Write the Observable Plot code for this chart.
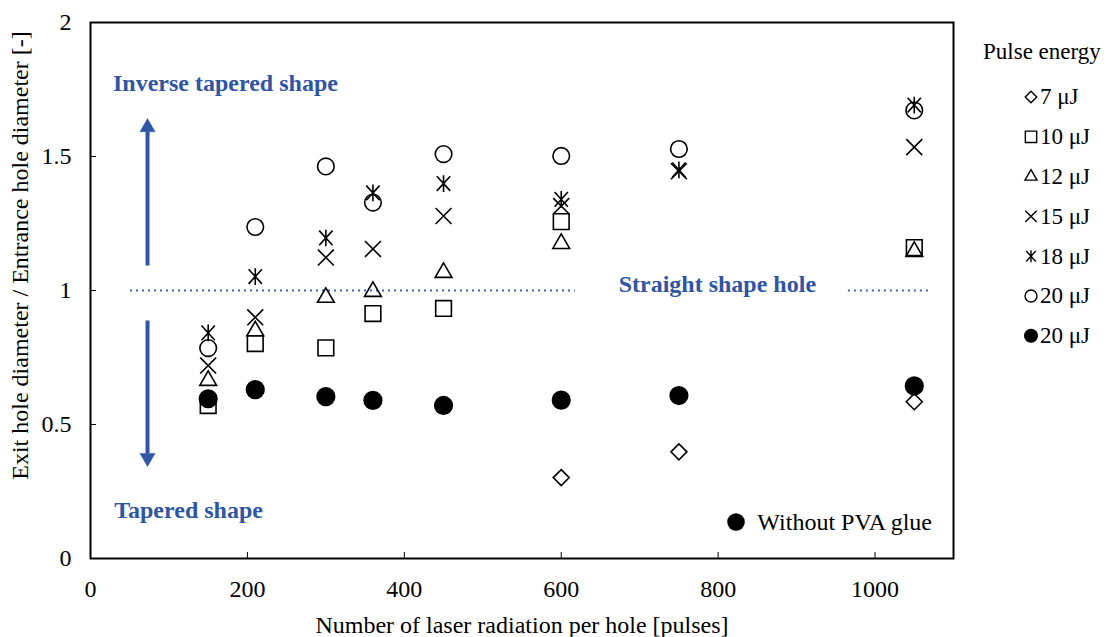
<!DOCTYPE html>
<html>
<head>
<meta charset="utf-8">
<script src="https://cdn.jsdelivr.net/npm/d3@7"></script>
<script src="https://cdn.jsdelivr.net/npm/@observablehq/plot@0.6"></script>
<style>
  html, body { margin: 0; padding: 0; background: white; }
  #chart { width: 1107px; height: 637px; }
</style>
</head>
<body>
<div id="chart"></div>
<script>
// ---- Data ----
const pulses = [150, 210, 300, 360, 450, 600, 750, 1050];
const e7     = [null, null, null, null, null, 0.302, 0.398, 0.585];
const e10    = [0.571, 0.802, 0.786, 0.914, 0.933, 1.257, null, 1.160];
const e12    = [0.664, 0.849, 0.974, 0.996, 1.067, 1.175, null, 1.145];
const e15    = [0.720, 0.900, 1.123, 1.155, 1.278, 1.315, 1.445, 1.535];
const e18    = [0.842, 1.052, 1.196, 1.364, 1.399, 1.340, 1.450, 1.692];
const e20    = [0.785, 1.237, 1.463, 1.328, 1.509, 1.502, 1.528, 1.672];
const e20noPVA = [0.596, 0.630, 0.604, 0.590, 0.571, 0.591, 0.608, 0.644];

const seriesNames = ["7 μJ", "10 μJ", "12 μJ", "15 μJ", "18 μJ", "20 μJ", "20 μJ"];
const xTicks = [0, 200, 400, 600, 800, 1000];
const yTicks = [0, 0.5, 1, 1.5, 2];
const xLabel = "Number of laser radiation per hole [pulses]";
const yLabel = "Exit hole diameter / Entrance hole diameter [-]";

const blue = "#2F55A4";
const dotBlue = "#3A63B8";
const FONT = "'Liberation Serif', 'Times New Roman', serif";

// Excel-like asterisk: an "×" with a vertical bar
const symbolStarX = {
  draw(context, size) {
    const r = Math.sqrt(size) * 0.56;
    const a = 0.8 * r, b = 0.88 * r;
    context.moveTo(0, -r); context.lineTo(0, r);
    context.moveTo(-a, -b); context.lineTo(a, b);
    context.moveTo(a, -b); context.lineTo(-a, b);
  }
};

const series = [
  {name: seriesNames[0], values: e7,  symbol: d3.symbolDiamond2, r: 7.2, fill: "none"},
  {name: seriesNames[1], values: e10, symbol: d3.symbolSquare2,  r: 10.0, fill: "none"},
  {name: seriesNames[2], values: e12, symbol: d3.symbolTriangle2,r: 8.0, fill: "none"},
  {name: seriesNames[3], values: e15, symbol: d3.symbolTimes,    r: 7.3, fill: "none"},
  {name: seriesNames[4], values: e18, symbol: symbolStarX,       r: 8.4, fill: "none"},
  {name: seriesNames[5], values: e20, symbol: d3.symbolCircle,   r: 8.3, fill: "none"},
  {name: seriesNames[6], values: e20noPVA, symbol: d3.symbolCircle, r: 8.8, fill: "black"}
];

const dotMarks = series.map(s => Plot.dot(
  pulses.map((x, i) => ({x, y: s.values[i]})).filter(d => d.y != null),
  {x: "x", y: "y", symbol: s.symbol, r: s.r, stroke: "black",
   strokeWidth: 1.6, fill: s.fill}
));

// annotation positions (data coordinates)
const arrowX = 72.7;
const annoText = [
  {x: 172, y: 1.772, t: "Inverse tapered shape"},
  {x: 125, y: 0.179, t: "Tapered shape"},
  {x: 799, y: 1.022, t: "Straight shape hole"}
];
const dottedSegs = [{x1: 51, x2: 618}, {x1: 966, x2: 1068}];

const chart = Plot.plot({
  width: 1107,
  height: 637,
  marginLeft: 90,
  marginRight: 154,
  marginTop: 22,
  marginBottom: 79,
  style: {fontFamily: FONT, fontSize: "24px", color: "black", background: "white"},
  x: {domain: [0, 1100]},
  y: {domain: [0, 2]},
  marks: [
    Plot.axisX({ticks: xTicks, tickSize: -6, tickPadding: 27, tickFormat: d => `${d}`,
      label: xLabel, labelAnchor: "center", labelOffset: 74, labelArrow: "none",
      fontSize: 24}),
    Plot.axisY({ticks: yTicks, tickSize: -6, tickPadding: 25, tickFormat: d => `${d}`,
      label: null, fontSize: 24}),
    Plot.text([yLabel], {frameAnchor: "left", text: d => d, rotate: -90, dx: -70, dy: -35,
      lineAnchor: "middle", textAnchor: "middle", fontSize: 24, fill: "black"}),
    // dotted straight line at y = 1
    Plot.ruleY(dottedSegs, {y: () => 1, x1: "x1", x2: "x2", stroke: dotBlue, strokeWidth: 2, strokeDasharray: "2,4"}),
    // arrows
    Plot.link([{x: arrowX, y1: 1.093, y2: 1.593}, {x: arrowX, y1: 0.888, y2: 0.392}],
      {x1: "x", x2: "x", y1: "y1", y2: "y2", stroke: blue, strokeWidth: 4}),
    Plot.dot([{x: arrowX, y: 1.609, rot: 0}, {x: arrowX, y: 0.376, rot: 180}],
      {x: "x", y: "y", rotate: "rot", symbol: "triangle", r: 5.6, fill: blue, stroke: blue, strokeWidth: 0.5}),
    Plot.text(annoText, {x: "x", y: "y", text: "t", fill: blue, fontWeight: "bold", fontSize: 24}),
    // "Without PVA glue" label
    Plot.dot([{x: 822.8, y: 0.136}], {x: "x", y: "y", r: 8.8, fill: "black"}),
    Plot.text([{x: 850, y: 0.136, t: "Without PVA glue"}], {x: "x", y: "y", text: "t", textAnchor: "start", fontSize: 24, fill: "black"}),
    ...dotMarks,
    Plot.frame({stroke: "black", strokeWidth: 2})
  ]
});

document.getElementById("chart").appendChild(chart);

// ---- Legend (right side) ----
const svg = d3.select(chart);
const lg = svg.append("g")
  .attr("font-family", FONT)
  .attr("font-size", 23)
  .attr("text-anchor", "start")
  .attr("fill", "black");
lg.append("text").attr("x", 983).attr("y", 52).attr("dy", "0.32em").text("Pulse energy");
series.forEach((s, i) => {
  const y = 97 + i * 39.8;
  const size = Math.PI * (s.r * 0.72) ** 2;
  lg.append("path")
    .attr("transform", `translate(1031,${y})`)
    .attr("d", d3.symbol(s.symbol, size)())
    .attr("fill", s.fill)
    .attr("stroke", "black")
    .attr("stroke-width", 1.4);
  lg.append("text").attr("x", 1040).attr("y", y).attr("dy", "0.32em").text(s.name);
});
</script>
</body>
</html>
